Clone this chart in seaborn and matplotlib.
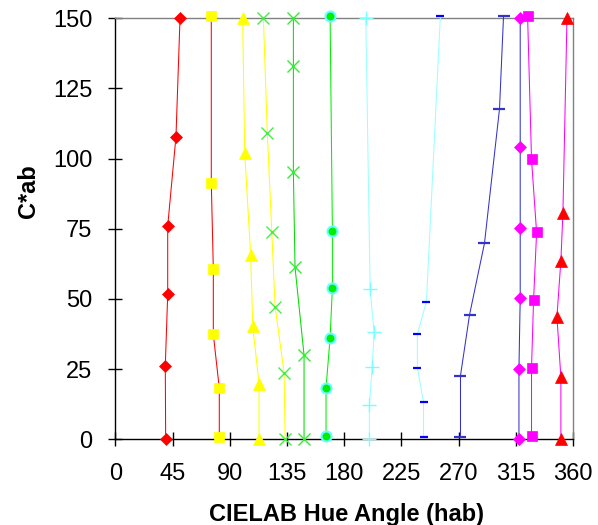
import matplotlib
matplotlib.use("Agg")
import matplotlib.pyplot as plt
import seaborn as sns
import pandas as pd

# ---- data (CIELAB hue angle vs chroma, per hue page) ----
hue_red_diamond = [39.5, 39.2, 41.1, 41.1, 47.6, 50.8]
c_red_diamond = [0, 26.2, 51.6, 76.0, 107.8, 150]
hue_yellow_square = [81.7, 81.7, 77.0, 77.0, 75.4, 75.4]
c_yellow_square = [1.0, 18.2, 37.4, 60.6, 91.5, 151]
hue_yellow_tri = [113.0, 113.0, 108.0, 106.4, 101.7, 100.1]
c_yellow_tri = [0, 19.7, 40.4, 65.7, 101.9, 150]
hue_lgreen_x = [133.5, 132.7, 125.6, 123.0, 119.5, 116.4]
c_lgreen_x = [0, 23.7, 47.3, 74.0, 109.0, 150]
hue_green_x = [148.4, 148.4, 141.3, 140.0, 140.0, 140.0]
c_green_x = [0, 30.0, 61.3, 95.1, 133.1, 150]
hue_green_circle = [165.7, 165.7, 168.9, 170.7, 170.7, 168.9]
c_green_circle = [1.2, 18.4, 36.2, 54.0, 74.3, 151]
hue_cyan_plus = [199.8, 199.8, 202.0, 203.5, 200.4, 197.0]
c_cyan_plus = [0, 12.2, 25.6, 38.1, 53.4, 150]
hue_blue_dash = [242.4, 242.4, 237.6, 237.6, 244.7, 255.7]
c_blue_dash = [0.9, 13.3, 25.5, 37.5, 49.0, 151]
hue_slate_dash = [271.5, 271.5, 278.6, 290.4, 302.2, 305.4]
c_slate_dash = [0.8, 22.7, 44.3, 69.9, 117.7, 151]
hue_mag_diamond = [317.5, 317.5, 318.5, 318.5, 318.5, 318.5]
c_mag_diamond = [0, 24.9, 50.4, 75.2, 104.0, 150]
hue_mag_square = [327.4, 327.4, 329.0, 331.4, 327.4, 324.3]
c_mag_square = [1.1, 25.4, 49.5, 73.7, 99.7, 151]
hue_red_tri = [350.5, 350.5, 347.4, 350.5, 352.1, 355.3]
c_red_tri = [0, 22.1, 43.7, 63.6, 80.5, 150]

x_ticks = [0, 45, 90, 135, 180, 225, 270, 315, 360]
y_ticks = [0, 25, 50, 75, 100, 125, 150]

# (hue, chroma, line color, marker, marker face, marker edge, size, edge width)
series = [
    (hue_red_diamond, c_red_diamond, "#ff0000", "D", "#ff0000", "#ff0000", 6.3, 0.5),
    (hue_yellow_square, c_yellow_square, "#ff0000", "s", "#ffff00", "#ffff00", 7.3, 0.5),
    (hue_yellow_tri, c_yellow_tri, "#ffff00", "^", "#ffff00", "#ffff00", 9.0, 0.5),
    (hue_lgreen_x, c_lgreen_x, "#ffff00", "x", "#44ee44", "#44ee44", 9.0, 1.0),
    (hue_green_x, c_green_x, "#00dd00", "x", "#33ee33", "#33ee33", 9.0, 1.0),
    (hue_green_circle, c_green_circle, "#00ee00", "o", "#00ee00", "#66ffff", 7.2, 1.5),
    (hue_cyan_plus, c_cyan_plus, "#99ffff", "+", "#77ffff", "#77ffff", 9.5, 1.0),
    (hue_blue_dash, c_blue_dash, "#99ffff", "_", "#0000ff", "#0000ff", 5.5, 1.6),
    (hue_slate_dash, c_slate_dash, "#3333cc", "_", "#3333cc", "#3333cc", 9.0, 1.6),
    (hue_mag_diamond, c_mag_diamond, "#3333cc", "D", "#ff00ff", "#ff00ff", 6.3, 0.5),
    (hue_mag_square, c_mag_square, "#ff00ff", "s", "#ff00ff", "#ff00ff", 7.3, 0.5),
    (hue_red_tri, c_red_tri, "#ff00ff", "^", "#ff0000", "#ff0000", 9.0, 0.5),
]

sns.set_style("white")
plt.rcParams["font.family"] = ["Liberation Sans", "DejaVu Sans"]
plt.rcParams["text.color"] = "black"
plt.rcParams["axes.labelcolor"] = "black"
plt.rcParams["xtick.color"] = "black"
plt.rcParams["ytick.color"] = "black"

fig = plt.figure(figsize=(5.98, 5.25), dpi=100)
ax = fig.add_axes([0.1931, 0.1632, 0.765, 0.8019])

for hue, chroma, lc, mk, mfc, mec, ms, mew in series:
    df = pd.DataFrame({"hue": hue, "chroma": chroma})
    sns.lineplot(data=df, x="hue", y="chroma", ax=ax, sort=False, estimator=None,
                 color=lc, linewidth=0.75, marker=mk, markersize=ms,
                 markerfacecolor=mfc, markeredgecolor=mec, markeredgewidth=mew,
                 clip_on=False, zorder=3)

ax.set_xlim(0, 360)
ax.set_ylim(0, 150)
ax.set_xticks(x_ticks)
ax.set_yticks(y_ticks)
ax.set_xticklabels([str(t) for t in x_ticks])
ax.set_yticklabels([str(t) for t in y_ticks])

for side in ["top", "right"]:
    ax.spines[side].set_color("#808080")
    ax.spines[side].set_linewidth(1.0)
for side in ["left", "bottom"]:
    ax.spines[side].set_color("black")
    ax.spines[side].set_linewidth(1.0)

ax.tick_params(axis="x", direction="inout", length=10, width=1.0, color="black",
               labelcolor="black", labelsize=17, pad=12, bottom=True)
ax.tick_params(axis="y", direction="inout", length=10, width=1.0, color="black",
               labelcolor="black", labelsize=17, pad=11.5, left=True)

ax.set_xlabel("CIELAB Hue Angle (hab)", fontsize=17, fontweight="bold", color="black")
ax.set_ylabel("C*ab", fontsize=17, fontweight="bold", color="black")
ax.xaxis.set_label_coords(0.504, -0.151)
ax.yaxis.set_label_coords(-0.166, 0.59)
ax.grid(False)

fig.savefig("out.png", dpi=100, facecolor="white")
